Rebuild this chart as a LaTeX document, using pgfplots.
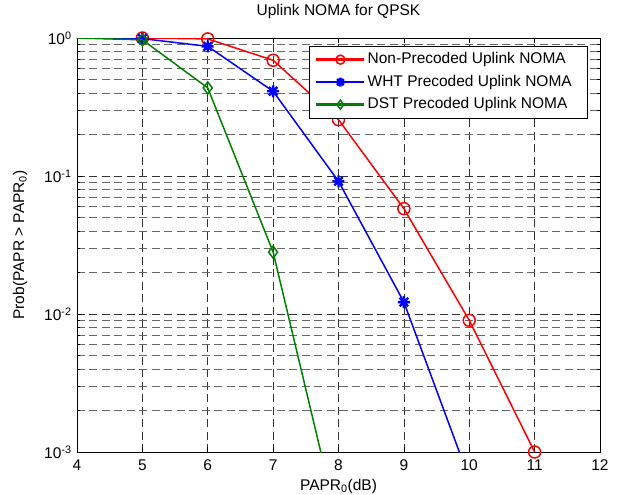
\documentclass[border=0pt]{standalone}
\usepackage{fontspec}
\setmainfont{Liberation Sans}
\usepackage{pgfplots}
\pgfplotsset{compat=1.18}
\pgfdeclareplotmark{mstar}{%
 \pgfsetlinewidth{2.4pt}%
 \pgfpathmoveto{\pgfqpoint{-\pgfplotmarksize}{0pt}}\pgfpathlineto{\pgfqpoint{\pgfplotmarksize}{0pt}}%
 \pgfpathmoveto{\pgfqpoint{0pt}{-\pgfplotmarksize}}\pgfpathlineto{\pgfqpoint{0pt}{\pgfplotmarksize}}%
 \pgfpathmoveto{\pgfqpoint{-.707\pgfplotmarksize}{-.707\pgfplotmarksize}}\pgfpathlineto{\pgfqpoint{.707\pgfplotmarksize}{.707\pgfplotmarksize}}%
 \pgfpathmoveto{\pgfqpoint{-.707\pgfplotmarksize}{.707\pgfplotmarksize}}\pgfpathlineto{\pgfqpoint{.707\pgfplotmarksize}{-.707\pgfplotmarksize}}%
 \pgfusepathqstroke}
\definecolor{mgreen}{rgb}{0,0.5,0}
\begin{document}
\fontsize{15.5}{18}\selectfont
\begin{tikzpicture}
\useasboundingbox (-77pt,-43pt) rectangle (545pt,452pt);
\begin{axis}[
  at={(0,0)}, anchor=south west,
  scale only axis, width=523pt, height=414pt,
  ymode=log, xmin=4, xmax=12, ymin=1e-3, ymax=1,
  xtick={4,...,12},
  ytick={1e-3,1e-2,1e-1,1},
  yticklabels={10\textsuperscript{-3},10\textsuperscript{-2},10\textsuperscript{-1},10\textsuperscript{0}},
  /pgf/number format/assume math mode=true,
  tick label style={font=\fontsize{15.5}{15.5}\selectfont},
  xticklabel style={yshift=-2pt},
  tick align=inside,
  major tick length=5pt, minor tick length=3pt,
  tick style={black, line width=0.6pt},
  ymajorgrids=true, yminorgrids=true, xmajorgrids=true,
  major grid style={black!80, dash pattern=on 8pt off 4.5pt, line width=0.7pt},
  minor grid style={black!60, dash pattern=on 8pt off 4.5pt, line width=0.7pt},
  axis line style={black, line width=0.8pt},
  title={Uplink NOMA for QPSK},
  title style={font=\fontsize{15.5}{15.5}\selectfont, at={(0.5,1)}, anchor=center, yshift=21pt},
  xlabel={PAPR\textsubscript{0}(dB)},
  xlabel style={font=\fontsize{15.5}{15.5}\selectfont, at={(0.5,0)}, anchor=center, yshift=-34pt},
  ylabel={Prob(PAPR > PAPR\textsubscript{0})},
  ylabel style={font=\fontsize{15.5}{15.5}\selectfont, at={(0,0.5)}, anchor=center, yshift=57pt},
  clip mode=individual,
  legend cell align=left,
  legend style={at={(1,1)}, anchor=north east, xshift=-13pt, yshift=-8pt,
    font=\fontsize{15.5}{15.5}\selectfont, draw=black, fill=white,
    inner xsep=6pt, inner ysep=2.2pt, row sep=0pt, column sep=-1pt,
    nodes={inner xsep=3pt, inner ysep=0pt, minimum height=22.5pt, text height=11pt, text depth=3pt}},
  legend image code/.code={%
    \draw[mark indices={2}] plot coordinates {(0pt,0pt)(24pt,0pt)(48pt,0pt)};},
]
\addlegendimage{red, line width=2.5pt, mark=o, mark size=4.5pt, mark options={solid, line width=1.5pt}}
\addlegendentry{Non-Precoded Uplink NOMA\hspace*{6pt}}
\addlegendimage{blue, line width=2.5pt, mark=mstar, mark size=4.5pt, mark options={solid}}
\addlegendentry{WHT Precoded Uplink NOMA\hspace*{6pt}}
\addlegendimage{mgreen, line width=2.5pt, mark=diamond, mark size=4.5pt, mark options={solid, line width=1.5pt}}
\addlegendentry{DST Precoded Uplink NOMA\hspace*{6pt}}
\addplot[forget plot, red, line width=1.5pt, mark=o, mark size=6pt, mark indices={2,3,4,5,6,7,8}, mark options={solid}]
  coordinates {(4,1)(5,1)(6,0.985)(7,0.69)(8,0.256)(9,0.058)(10,0.0090)(11,0.001)};
\addplot[forget plot, blue, line width=1.5pt, mark=mstar, mark size=6pt, mark indices={2,3,4,5,6}, mark options={solid}]
  coordinates {(4,1)(5,0.99)(6,0.87)(7,0.411)(8,0.0916)(9,0.0122)(10,0.00064)};
\addplot[forget plot, mgreen, line width=1.5pt, mark=diamond, mark size=6pt, mark indices={2,3,4}, mark options={solid}]
  coordinates {(4,1)(5,0.97)(6,0.435)(7,0.0281)(8,0.00029)};
\end{axis}
\end{tikzpicture}
\end{document}
